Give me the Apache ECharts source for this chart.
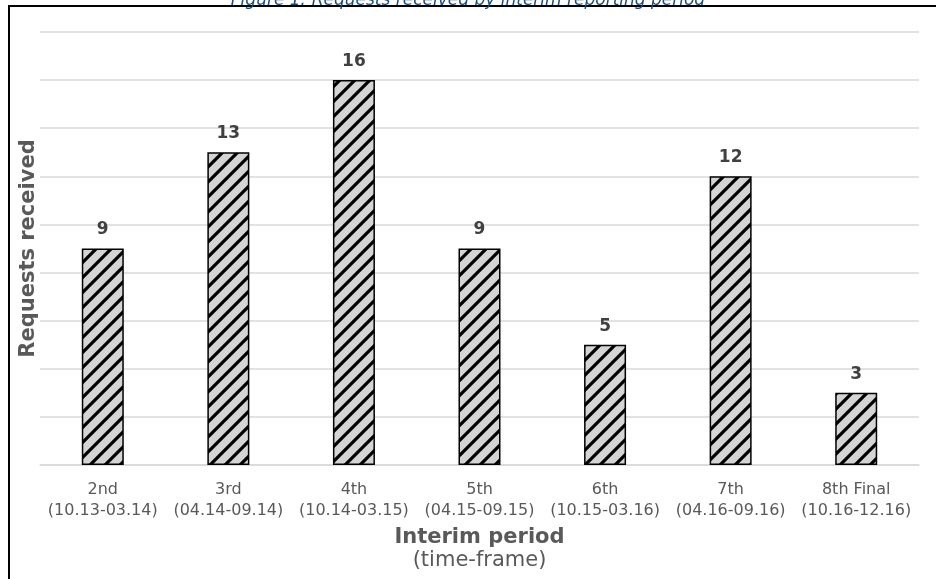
<!DOCTYPE html>
<html>
<head>
<meta charset="utf-8">
<script src="https://cdn.jsdelivr.net/npm/echarts@6/dist/echarts.min.js"></script>
<style>
  html, body { margin: 0; padding: 0; background: #fff; }
  #chart { width: 936px; height: 579px; }
</style>
</head>
<body>
<div id="chart"></div>
<script>
// Interim periods and their time-frames
const periods = ['2nd', '3rd', '4th', '5th', '6th', '7th', '8th Final'];
const timeFrames = ['(10.13-03.14)', '(04.14-09.14)', '(10.14-03.15)', '(04.15-09.15)', '(10.15-03.16)', '(04.16-09.16)', '(10.16-12.16)'];
// Requests received in each period
const requests = [9, 13, 16, 9, 5, 12, 3];

const categories = periods.map((p, i) => p + '\n' + timeFrames[i]);

// Diagonal hatch tile for the bars
function hatchTile() {
  const p = 15;
  const c = document.createElement('canvas');
  c.width = p; c.height = p;
  const g = c.getContext('2d');
  g.fillStyle = '#d4d4d4';
  g.fillRect(0, 0, p, p);
  g.strokeStyle = '#000';
  g.lineWidth = 3.2;
  g.beginPath();
  g.moveTo(-p, p); g.lineTo(p, -p);
  g.moveTo(0, 2 * p); g.lineTo(2 * p, 0);
  g.moveTo(0, p); g.lineTo(p, 0);
  g.stroke();
  return c;
}

const font = 'DejaVu Sans, Verdana, sans-serif';
const chart = echarts.init(document.getElementById('chart'));
chart.setOption({
  animation: false,
  title: {
    text: 'Figure 1: Requests received by interim reporting period',
    left: 'center',
    top: -13,
    textStyle: { fontFamily: font, fontStyle: 'italic', fontWeight: 'normal', fontSize: 17, color: '#1F4E79' }
  },
  graphic: [{
    type: 'rect',
    shape: { x: 9, y: 6, width: 1000, height: 1000 },
    style: { fill: 'none', stroke: '#000', lineWidth: 2 },
    silent: true
  }],
  grid: { left: 40, right: 17, top: 32, bottom: 114 },
  xAxis: {
    type: 'category',
    data: categories,
    axisLine: { lineStyle: { color: '#d9d9d9', width: 1.5 } },
    axisTick: { show: false },
    axisLabel: { interval: 0, fontFamily: font, fontSize: 16, color: '#595959', lineHeight: 21, margin: 14 },
    name: '{b|Interim period}\n{r|(time-frame)}',
    nameLocation: 'middle',
    nameGap: 61,
    nameTextStyle: {
      rich: {
        b: { fontFamily: font, fontSize: 21, fontWeight: 'bold', color: '#595959', lineHeight: 23 },
        r: { fontFamily: font, fontSize: 21, color: '#595959', lineHeight: 23 }
      }
    }
  },
  yAxis: {
    type: 'value',
    min: 0, max: 18, interval: 2,
    axisLabel: { show: false },
    axisLine: { show: false },
    axisTick: { show: false },
    splitLine: { lineStyle: { color: '#d9d9d9', width: 1.5 } },
    name: 'Requests received',
    nameLocation: 'middle',
    nameGap: 1,
    nameRotate: 90,
    nameTextStyle: { fontFamily: font, fontSize: 21, fontWeight: 'bold', color: '#595959' }
  },
  series: [{
    type: 'bar',
    data: requests,
    barWidth: 42,
    itemStyle: {
      color: { image: hatchTile(), repeat: 'repeat' },
      borderColor: '#000',
      borderWidth: 1.5
    },
    label: {
      show: true,
      position: 'top',
      distance: 10,
      fontFamily: font,
      fontSize: 17,
      fontWeight: 'bold',
      color: '#404040'
    }
  }]
});
</script>
</body>
</html>
